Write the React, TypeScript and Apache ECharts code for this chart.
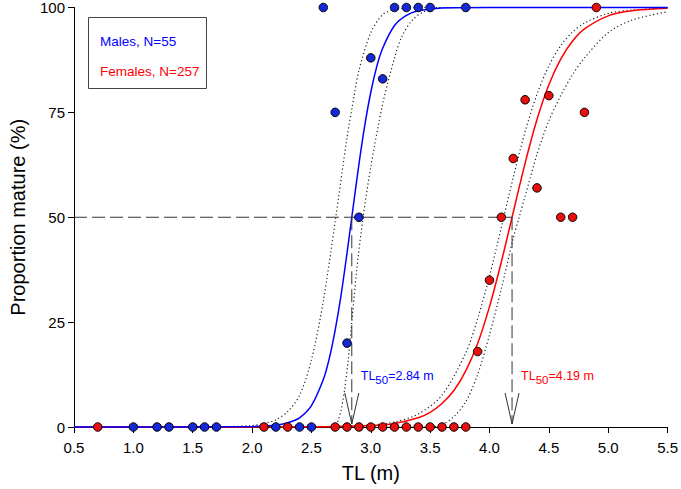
import React, { useEffect, useRef } from 'react';
import * as echarts from 'echarts';

// Observed proportions mature
const malesTL = [1.0, 1.2, 1.3, 1.5, 1.6, 1.7, 2.2, 2.4, 2.5, 2.6, 2.7, 2.8, 2.9, 3.0, 3.1, 3.2, 3.3, 3.4, 3.5, 3.8];
const malesPct = [0, 0, 0, 0, 0, 0, 0, 0, 0, 100, 75, 20, 50, 88, 83, 100, 100, 100, 100, 100];
const femalesTL = [0.7, 2.1, 2.3, 2.7, 2.8, 2.9, 3.0, 3.1, 3.2, 3.3, 3.4, 3.5, 3.6, 3.7, 3.8, 3.9, 4.0, 4.1, 4.2, 4.3, 4.4, 4.5, 4.6, 4.7, 4.8, 4.9];
const femalesPct = [0, 0, 0, 0, 0, 0, 0, 0, 0, 0, 0, 0, 0, 0, 0, 18, 35, 50, 64, 78, 57, 79, 50, 50, 75, 100];

// Fitted ogive (males) and its confidence limits
const maleFitTL = [0.5, 2.0, 2.2, 2.3, 2.4, 2.5, 2.6, 2.65, 2.7, 2.75, 2.8, 2.84, 2.9, 2.95, 3.0, 3.05, 3.1, 3.2, 3.3, 3.4, 3.6, 4.0, 5.5];
const maleFitPct = [0, 0.1, 0.4, 1.0, 2.2, 5.1, 11.3, 16.3, 23.1, 31.5, 41.5, 50, 62.6, 72.0, 79.8, 85.9, 90.3, 95.7, 98.1, 99.2, 99.9, 100, 100];
const maleLoTL = [0.5, 1.8, 2.0, 2.1, 2.2, 2.3, 2.4, 2.5, 2.6, 2.7, 2.8, 2.86, 2.9, 3.0, 3.1, 3.2, 3.4, 5.5];
const maleLoPct = [0, 0.1, 0.35, 0.8, 1.7, 3.7, 7.5, 16, 30, 49, 69, 79, 85, 94, 98.3, 99.5, 100, 100];
const maleHiTL = [0.5, 2.68, 2.7, 2.72, 2.75, 2.78, 2.81, 2.84, 2.88, 2.935, 3.0, 3.1, 3.2, 3.26, 3.35, 3.45, 3.6, 5.5];
const maleHiPct = [0, 0, 0.4, 1.2, 4, 9, 16, 25, 37, 50, 62, 77, 88, 93, 97, 99, 100, 100];

// Fitted ogive (females) and its confidence limits
const femFitTL = [0.5, 2.6, 3.0, 3.2, 3.4, 3.5, 3.6, 3.7, 3.8, 3.9, 4.0, 4.1, 4.19, 4.3, 4.4, 4.5, 4.6, 4.7, 4.8, 5.0, 5.2, 5.5];
const femFitPct = [0, 0.05, 0.33, 0.86, 2.2, 3.5, 5.6, 8.7, 13.4, 19.9, 28.7, 39.4, 50, 62.9, 73.3, 81.6, 87.7, 92.0, 94.9, 98.0, 99.2, 99.8];
const femLoTL = [0.5, 2.5, 2.7, 3.0, 3.2, 3.4, 3.6, 3.8, 3.9, 4.0, 4.1, 4.2, 4.3, 4.4, 4.5, 4.6, 4.7, 4.8, 5.0, 5.2, 5.5];
const femLoPct = [0, 0.03, 0.1, 0.46, 1.2, 3.1, 7.6, 17.7, 25.8, 36, 47.6, 59.5, 70.4, 79.3, 86.1, 90.9, 94.2, 96.3, 98.6, 99.4, 99.9];
const femHiTL = [0.5, 3.5, 3.6, 3.7, 3.8, 3.9, 4.0, 4.1, 4.2, 4.25, 4.3, 4.4, 4.5, 4.6, 4.7, 4.8, 5.0, 5.2, 5.5];
const femHiPct = [0, 0, 0.5, 2.5, 6, 12.5, 22, 33, 45, 50, 55, 65, 73, 79, 84, 88, 94, 97, 99];

// Length at 50 % maturity
const tl50Values = [2.84, 4.19];
const tl50Texts = ['2.84', '4.19'];

// Axes
const xTicks = [0.5, 1.0, 1.5, 2.0, 2.5, 3.0, 3.5, 4.0, 4.5, 5.0, 5.5];
const yTicks = [0, 25, 50, 75, 100];
const legendTexts = ['Males, N=55', 'Females, N=257'];

const FONT = 'Liberation Sans, Arial, sans-serif';
const BLUE = '#0000ff';
const RED = '#ff0000';
const MALE_DOT = '#1428d8';
const FEM_DOT = '#e80f0f';
const tl50Colors = [BLUE, RED];

const zip = (xs: number[], ys: number[]) => xs.map((x, i) => [x, ys[i]]);

export default function App() {
  const ref = useRef<HTMLDivElement>(null);

  useEffect(() => {
    if (!ref.current) return;
    const chart = echarts.init(ref.current, undefined, { renderer: 'svg' });

    const dotted = (name: string, xs: number[], ys: number[]) => ({
      name,
      type: 'line',
      data: zip(xs, ys),
      showSymbol: false,
      symbol: 'none',
      smooth: 0.3,
      clip: false,
      silent: true,
      lineStyle: { color: '#222', width: 1.2, type: [1.2, 2.6] },
      z: 2,
    });

    const fit = (name: string, xs: number[], ys: number[], color: string, z: number) => ({
      name,
      type: 'line',
      data: zip(xs, ys),
      showSymbol: false,
      symbol: 'none',
      smooth: 0.3,
      clip: false,
      silent: true,
      lineStyle: { color, width: 1.5 },
      z,
    });

    const xMin = xTicks[0];

    const option: any = {
      animation: false,
      grid: { left: 69, right: 12.5, top: 7, bottom: 62, containLabel: false },
      xAxis: {
        type: 'value',
        min: xTicks[0],
        max: xTicks[xTicks.length - 1],
        interval: 0.5,
        name: 'TL (m)',
        nameLocation: 'middle',
        nameGap: 36,
        nameTextStyle: { fontSize: 20, color: '#000', fontFamily: FONT },
        axisLine: { lineStyle: { color: '#000', width: 1 } },
        axisTick: { inside: false, length: 6, lineStyle: { color: '#000' } },
        axisLabel: {
          fontSize: 15,
          color: '#000',
          fontFamily: FONT,
          margin: 13,
          formatter: (v: number) => v.toFixed(1),
        },
        splitLine: { show: false },
      },
      yAxis: {
        type: 'value',
        min: yTicks[0],
        max: yTicks[yTicks.length - 1],
        interval: 25,
        name: 'Proportion mature (%)',
        nameLocation: 'middle',
        nameGap: 46,
        nameTextStyle: { fontSize: 20, color: '#000', fontFamily: FONT },
        axisLine: { show: true, lineStyle: { color: '#000', width: 1 } },
        axisTick: { show: true, inside: false, length: 6, lineStyle: { color: '#000' } },
        axisLabel: { fontSize: 15, color: '#000', fontFamily: FONT, margin: 9 },
        splitLine: { show: false },
      },
      graphic: [
        {
          type: 'rect',
          left: 88,
          top: 17,
          shape: { width: 118, height: 71 },
          style: { fill: '#fff', stroke: '#444', lineWidth: 1 },
          z: 10,
        },
        {
          type: 'text',
          left: 100,
          top: 34,
          style: { text: legendTexts[0], fill: BLUE, fontSize: 13.5, fontFamily: FONT },
          z: 11,
        },
        {
          type: 'text',
          left: 100,
          top: 64,
          style: { text: legendTexts[1], fill: RED, fontSize: 13.5, fontFamily: FONT },
          z: 11,
        },
      ],
      series: [
        dotted('Females lower', femLoTL, femLoPct),
        dotted('Females upper', femHiTL, femHiPct),
        dotted('Males lower', maleLoTL, maleLoPct),
        dotted('Males upper', maleHiTL, maleHiPct),
        fit('Females fit', femFitTL, femFitPct, RED, 3),
        fit('Males fit', maleFitTL, maleFitPct, BLUE, 4),
        {
          name: 'TL50',
          type: 'custom',
          coordinateSystem: 'cartesian2d',
          data: tl50Values.map((v) => [v, 50]),
          encode: { x: 0, y: 1 },
          clip: false,
          silent: true,
          z: 5,
          renderItem: (params: any, api: any) => {
            const x = api.value(0);
            const idx = params.dataIndex;
            const top = api.coord([x, 50]);
            const tip = api.coord([x, 0]);
            const children: any[] = [
              {
                type: 'line',
                shape: { x1: top[0], y1: top[1], x2: tip[0], y2: tip[1] - 3 },
                style: { stroke: '#333', lineWidth: 1, lineDash: [13, 5] },
              },
              {
                type: 'polyline',
                shape: {
                  points: [
                    [tip[0] - 7, tip[1] - 34],
                    [tip[0], tip[1] - 3],
                    [tip[0] + 7, tip[1] - 34],
                  ],
                },
                style: { stroke: '#333', fill: 'none', lineWidth: 1 },
              },
              {
                type: 'text',
                x: tip[0] + 9,
                y: tip[1] - 58,
                style: {
                  text: '{a|TL}{s|50}{a|=' + tl50Texts[idx] + ' m}',
                  fill: tl50Colors[idx],
                  fontFamily: FONT,
                  rich: {
                    a: { fontSize: 12.5, lineHeight: 12, verticalAlign: 'top', fill: tl50Colors[idx], fontFamily: FONT },
                    s: { fontSize: 11.5, lineHeight: 17, verticalAlign: 'bottom', fill: tl50Colors[idx], fontFamily: FONT },
                  },
                },
              },
            ];
            if (idx === tl50Values.length - 1) {
              const left = api.coord([xMin, 50]);
              children.push({
                type: 'line',
                shape: { x1: left[0], y1: left[1], x2: top[0], y2: top[1] },
                style: { stroke: '#333', lineWidth: 1, lineDash: [13, 5] },
              });
            }
            return { type: 'group', children };
          },
        },
        {
          name: 'Males',
          type: 'scatter',
          data: zip(malesTL, malesPct),
          symbol: 'circle',
          symbolSize: 8.5,
          clip: false,
          itemStyle: { color: MALE_DOT, borderColor: '#000', borderWidth: 1, opacity: 1 },
          z: 6,
        },
        {
          name: 'Females',
          type: 'scatter',
          data: zip(femalesTL, femalesPct),
          symbol: 'circle',
          symbolSize: 8.5,
          clip: false,
          itemStyle: { color: FEM_DOT, borderColor: '#000', borderWidth: 1, opacity: 1 },
          z: 7,
        },
      ],
    };

    chart.setOption(option);
    return () => chart.dispose();
  }, []);

  return (
    <div
      ref={ref}
      style={{ position: 'fixed', left: 0, top: 0, width: 681, height: 489, background: '#fff' }}
    />
  );
}
